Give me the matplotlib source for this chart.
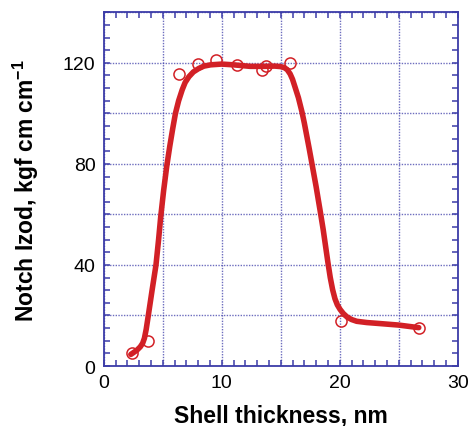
import matplotlib
matplotlib.use("Agg")
import matplotlib.pyplot as plt
from matplotlib.ticker import MultipleLocator, FuncFormatter

# Measured notched Izod impact strength vs. shell thickness
thickness_nm = [2.4, 3.75, 6.4, 8.0, 9.5, 11.3, 13.45, 13.75, 15.8, 20.15, 26.7]
izod = [5.0, 9.7, 115.5, 119.5, 121.3, 119.1, 117.2, 118.7, 119.9, 17.7, 15.1]

# Hand-drawn trend curve through the measurements
trend_x = [2.3, 2.8, 3.1, 3.3, 3.45, 3.6, 3.78, 4.1, 4.43, 4.65, 4.83, 5.08,
           5.34, 5.6, 5.85, 6.08, 6.35, 6.65, 6.9, 7.22, 7.6, 8.07, 8.5,
           9.06, 10.0, 11.0, 12.4, 13.5, 14.5, 15.0, 15.3, 15.55, 15.8, 16.0,
           16.2, 16.5, 16.8, 17.0, 17.2, 17.4, 17.6, 18.0, 18.34, 18.6, 18.8,
           19.0, 19.2, 19.4, 19.6, 19.8, 20.03, 20.3, 20.6, 21.0, 21.44, 22.3,
           23.4, 25.0, 26.5, 26.7]
trend_y = [4.6, 6.2, 7.6, 9.0, 11.0, 14.5, 20.0, 30.0, 40.0, 50.0, 59.0,
           69.5, 79.0, 87.0, 94.0, 100.0, 105.0, 109.3, 112.2, 114.5, 116.4,
           117.8, 118.7, 119.2, 119.5, 119.2, 118.6, 118.6, 118.7, 118.5,
           118.1, 117.3, 115.6, 113.5, 110.6, 106.2, 100.6, 96.2, 91.3, 86.4,
           81.3, 71.0, 61.5, 54.0, 47.5, 41.0, 35.0, 30.2, 26.6, 24.2, 22.4,
           20.8, 19.5, 18.4, 17.7, 17.2, 16.8, 16.2, 15.3, 15.2]

x_labels = [0, 10, 20, 30]
y_labels = [0, 40, 80, 120]

plt.rcParams["font.family"] = ["Liberation Sans", "DejaVu Sans"]
plt.rcParams["mathtext.fontset"] = "custom"
plt.rcParams["mathtext.rm"] = "Liberation Sans:bold"
plt.rcParams["mathtext.it"] = "Liberation Sans:bold"
plt.rcParams["mathtext.bf"] = "Liberation Sans:bold"

frame_blue = "#3c3ca8"
red = "#d22026"

fig = plt.figure(figsize=(4.68, 4.27), dpi=100)
ax = fig.add_axes([0.2216, 0.1405, 0.7564, 0.8284])

ax.set_xlim(0, 30)
ax.set_ylim(0, 140)

# grid every 5 nm / 20 units, minor ticks every 1 nm / 5 units
ax.xaxis.set_major_locator(MultipleLocator(5))
ax.xaxis.set_minor_locator(MultipleLocator(1))
ax.yaxis.set_major_locator(MultipleLocator(20))
ax.yaxis.set_minor_locator(MultipleLocator(5))
ax.xaxis.set_major_formatter(FuncFormatter(
    lambda v, p: f"{int(round(v))}" if int(round(v)) in x_labels else ""))
ax.yaxis.set_major_formatter(FuncFormatter(
    lambda v, p: f"{int(round(v))}" if int(round(v)) in y_labels else ""))

ax.grid(True, which="major", color=frame_blue, linestyle=(0, (1.0, 1.0)),
        linewidth=1.0, alpha=0.75)
ax.set_axisbelow(True)

for sp in ax.spines.values():
    sp.set_color(frame_blue)
    sp.set_linewidth(1.3)

ax.tick_params(which="both", direction="in", top=True, right=True,
               color=frame_blue, width=1.1)
ax.tick_params(which="major", length=4, labelsize=14, pad=6, labelcolor="black")
ax.tick_params(which="minor", length=4)

ax.plot(trend_x, trend_y, color=red, linewidth=4.0,
        solid_capstyle="round", solid_joinstyle="round", zorder=3)
ax.plot(thickness_nm, izod, linestyle="none", marker="o", markersize=8,
        markerfacecolor="none", markeredgecolor=red, markeredgewidth=1.1,
        zorder=4)

ax.set_xlabel("Shell thickness, nm", fontsize=16.5, fontweight="bold", labelpad=9)
ax.set_ylabel(r"Notch Izod, kgf cm cm$^{-1}$", fontsize=16.5,
              fontweight="bold", labelpad=16)

fig.savefig("out.png", dpi=100)
